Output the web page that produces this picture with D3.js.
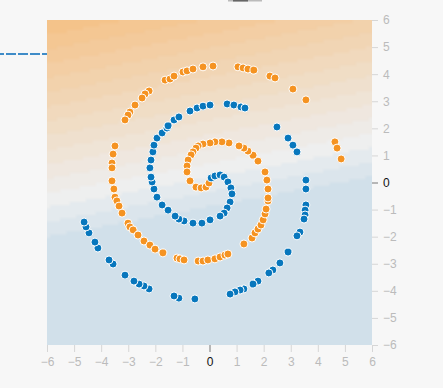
<!DOCTYPE html>
<html>
<head>
<meta charset="utf-8">
<script src="https://cdn.jsdelivr.net/npm/d3@7"></script>
<style>
  body { margin: 0; background: #f7f7f7; }
  svg { display: block; }
  .tick text { font-family: "Liberation Sans", Arial, sans-serif; font-size: 12px; fill: #bbb; }
  .tick line { stroke: #d6d6d6; }
  .tick.zero text { fill: #111; }
  .tick.zero line { stroke: #777; }
</style>
</head>
<body>
<div id="chart"></div>
<script>
// spiral points, [x, y] in data units
const orangePoints = [
  [-1.64, 3.78], [-1.46, 3.82], [-1.31, 3.93], [-0.98, 4.08], [-0.83, 4.12], [-0.61, 4.19],
  [-0.24, 4.27], [0.13, 4.30], [1.05, 4.27], [1.24, 4.23], [1.42, 4.19], [1.64, 4.15],
  [2.23, 3.93], [2.42, 3.86], [3.08, 3.45], [3.56, 3.05], [4.63, 1.50], [4.71, 1.27], [4.86, 0.87],
  [-2.23, 3.38], [-2.38, 3.27], [-2.49, 3.12], [-2.75, 2.86], [-2.94, 2.60], [-3.01, 2.49], [-3.12, 2.31],
  [-3.49, 1.35], [-3.56, 1.05], [-3.60, 0.72], [-3.60, 0.54], [-3.60, 0.06], [-3.53, -0.24],
  [-3.49, -0.54], [-3.42, -0.68], [-3.34, -0.87], [-3.23, -1.13], [-3.01, -1.50], [-2.94, -1.64],
  [-2.82, -1.75], [-2.64, -1.94], [-2.42, -2.16], [-2.20, -2.31], [-2.01, -2.46],
  [-1.72, -2.60], [-1.20, -2.79], [-1.09, -2.82], [-0.94, -2.86], [-0.42, -2.90], [-0.24, -2.90],
  [-0.06, -2.86], [0.20, -2.82], [0.39, -2.75], [0.57, -2.68], [0.68, -2.64],
  [1.27, -2.27], [1.57, -2.05], [1.68, -1.86], [1.79, -1.72], [1.90, -1.57], [1.98, -1.38],
  [2.05, -1.16], [2.09, -0.98], [2.16, -0.68], [2.16, -0.57], [2.16, -0.24], [2.12, 0.09], [2.05, 0.39],
  [1.79, 0.79], [1.61, 1.01], [1.42, 1.16], [1.27, 1.27], [1.09, 1.35], [0.72, 1.46], [0.46, 1.50],
  [0.20, 1.50], [0.02, 1.46], [-0.24, 1.42], [-0.42, 1.35], [-0.50, 1.27], [-0.61, 1.13],
  [-0.68, 1.02], [-0.79, 0.83], [-0.83, 0.61], [-0.83, 0.39], [-0.72, 0.06], [-0.50, -0.17],
  [-0.31, -0.20], [-0.13, -0.17], [-0.02, -0.02]
];

const bluePoints = [
  [0.06, 0.17], [0.20, 0.24], [0.39, 0.28], [0.54, 0.20], [0.68, 0.02], [0.79, -0.20], [0.83, -0.42],
  [0.76, -0.72], [0.65, -0.94], [0.54, -1.13], [0.39, -1.24], [0.02, -1.38], [-0.28, -1.50],
  [-0.61, -1.50], [-0.94, -1.42], [-1.13, -1.35], [-1.27, -1.24], [-1.53, -1.02], [-1.75, -0.83],
  [-1.94, -0.54], [-2.05, -0.24], [-2.12, 0.02], [-2.16, 0.20], [-2.20, 0.54], [-2.16, 0.83],
  [-2.09, 1.13], [-2.05, 1.38], [-1.94, 1.64], [-1.75, 1.83], [-1.57, 2.01], [-1.53, 2.09],
  [-1.31, 2.31], [-1.13, 2.42], [-0.72, 2.64], [-0.46, 2.75], [-0.24, 2.82], [0.02, 2.86],
  [0.65, 2.90], [0.90, 2.86], [1.16, 2.79], [1.31, 2.75], [2.49, 2.05], [2.90, 1.64], [3.08, 1.38],
  [3.23, 1.13], [3.56, 0.09], [3.56, -0.24], [3.56, -0.83], [3.53, -1.02], [3.53, -1.20], [3.49, -1.35],
  [3.34, -1.83], [3.23, -1.97], [2.90, -2.57], [2.60, -2.97], [2.34, -3.23], [2.19, -3.34],
  [1.79, -3.64], [1.61, -3.75], [1.27, -3.93], [1.13, -3.97], [0.94, -4.04], [0.76, -4.12],
  [-0.54, -4.30], [-1.13, -4.27], [-1.31, -4.19], [-2.23, -3.93], [-2.42, -3.82], [-2.60, -3.75],
  [-2.79, -3.64], [-3.12, -3.42], [-3.56, -3.01], [-3.71, -2.86], [-4.12, -2.42], [-4.23, -2.20],
  [-4.45, -1.86], [-4.56, -1.64], [-4.63, -1.46]
];

const tickValues = [-6, -5, -4, -3, -2, -1, 0, 1, 2, 3, 4, 5, 6];

// neuron output over the plane: u = b + wx*x + wy*y, capped at the top
const heatBias = 0.054, heatWx = 0.0222, heatWy = -0.12, heatCap = 0.2;

const width = 443, height = 388;
const plot = { left: 47, top: 20, size: 325 };

const svg = d3.select("#chart").append("svg")
    .attr("width", width)
    .attr("height", height);

const x = d3.scaleLinear().domain([-6, 6]).range([plot.left, plot.left + plot.size]);
const y = d3.scaleLinear().domain([-6, 6]).range([plot.top + plot.size, plot.top]);

// heatmap, drawn like the playground: 100x100 cells, 30 shades, alpha 160
const N = 100;
const tmpScale = d3.scaleLinear().domain([0, 0.5, 1])
    .range(["#f59322", "#e8eaeb", "#0877bd"]).clamp(true);
const shades = d3.range(0, 1 + 1e-9, 1 / 30).map(a => tmpScale(a));
const color = d3.scaleQuantize().domain([-1, 1]).range(shades);
const cellX = d3.scaleLinear().domain([0, N - 1]).range([-6, 6]);
const cellY = d3.scaleLinear().domain([0, N - 1]).range([6, -6]);

const canvas = document.createElement("canvas");
canvas.width = N;
canvas.height = N;
const ctx = canvas.getContext("2d");
const img = ctx.createImageData(N, N);
for (let j = 0; j < N; j++) {
  for (let i = 0; i < N; i++) {
    let u = heatBias + heatWx * cellX(i) + heatWy * cellY(j);
    u = Math.max(-1, Math.min(heatCap, u));
    const c = d3.rgb(color(u));
    const k = (j * N + i) * 4;
    img.data[k] = c.r;
    img.data[k + 1] = c.g;
    img.data[k + 2] = c.b;
    img.data[k + 3] = 160;
  }
}
ctx.putImageData(img, 0, 0);

svg.append("image")
    .attr("x", plot.left)
    .attr("y", plot.top)
    .attr("width", plot.size)
    .attr("height", plot.size)
    .attr("preserveAspectRatio", "none")
    .attr("href", canvas.toDataURL());

// axes
const xAxis = svg.append("g")
    .attr("transform", `translate(0,${plot.top + plot.size})`)
    .call(d3.axisBottom(x).tickValues(tickValues).tickSize(7).tickPadding(5));
const yAxis = svg.append("g")
    .attr("transform", `translate(${plot.left + plot.size},0)`)
    .call(d3.axisRight(y).tickValues(tickValues).tickSize(6).tickPadding(5));

[xAxis, yAxis].forEach(g => {
  g.select(".domain").remove();
  g.attr("font-family", null).attr("font-size", null);
  g.selectAll(".tick").classed("zero", d => d === 0);
});

// points
svg.append("g").selectAll("circle.orange")
    .data(orangePoints)
  .enter().append("circle")
    .attr("cx", d => x(d[0]))
    .attr("cy", d => y(d[1]))
    .attr("r", 4)
    .attr("fill", "#f59322")
    .attr("stroke", "#fff")
    .attr("stroke-width", 1);

svg.append("g").selectAll("circle.blue")
    .data(bluePoints)
  .enter().append("circle")
    .attr("cx", d => x(d[0]))
    .attr("cy", d => y(d[1]))
    .attr("r", 4)
    .attr("fill", "#0877bd")
    .attr("stroke", "#fff")
    .attr("stroke-width", 1);

// link coming in from the network on the left
svg.append("line")
    .attr("x1", 0).attr("y1", 54)
    .attr("x2", plot.left).attr("y2", 54)
    .attr("stroke", "#3f8cc8")
    .attr("stroke-width", 2)
    .attr("stroke-dasharray", "10,2")
    .attr("stroke-dashoffset", 6);

// bit of the control above, cut off at the top edge
svg.append("rect").attr("x", 228).attr("y", 0).attr("width", 34).attr("height", 1.5).attr("fill", "#bbb");
svg.append("rect").attr("x", 233).attr("y", 0).attr("width", 15).attr("height", 1.5).attr("fill", "#666");
</script>
</body>
</html>
